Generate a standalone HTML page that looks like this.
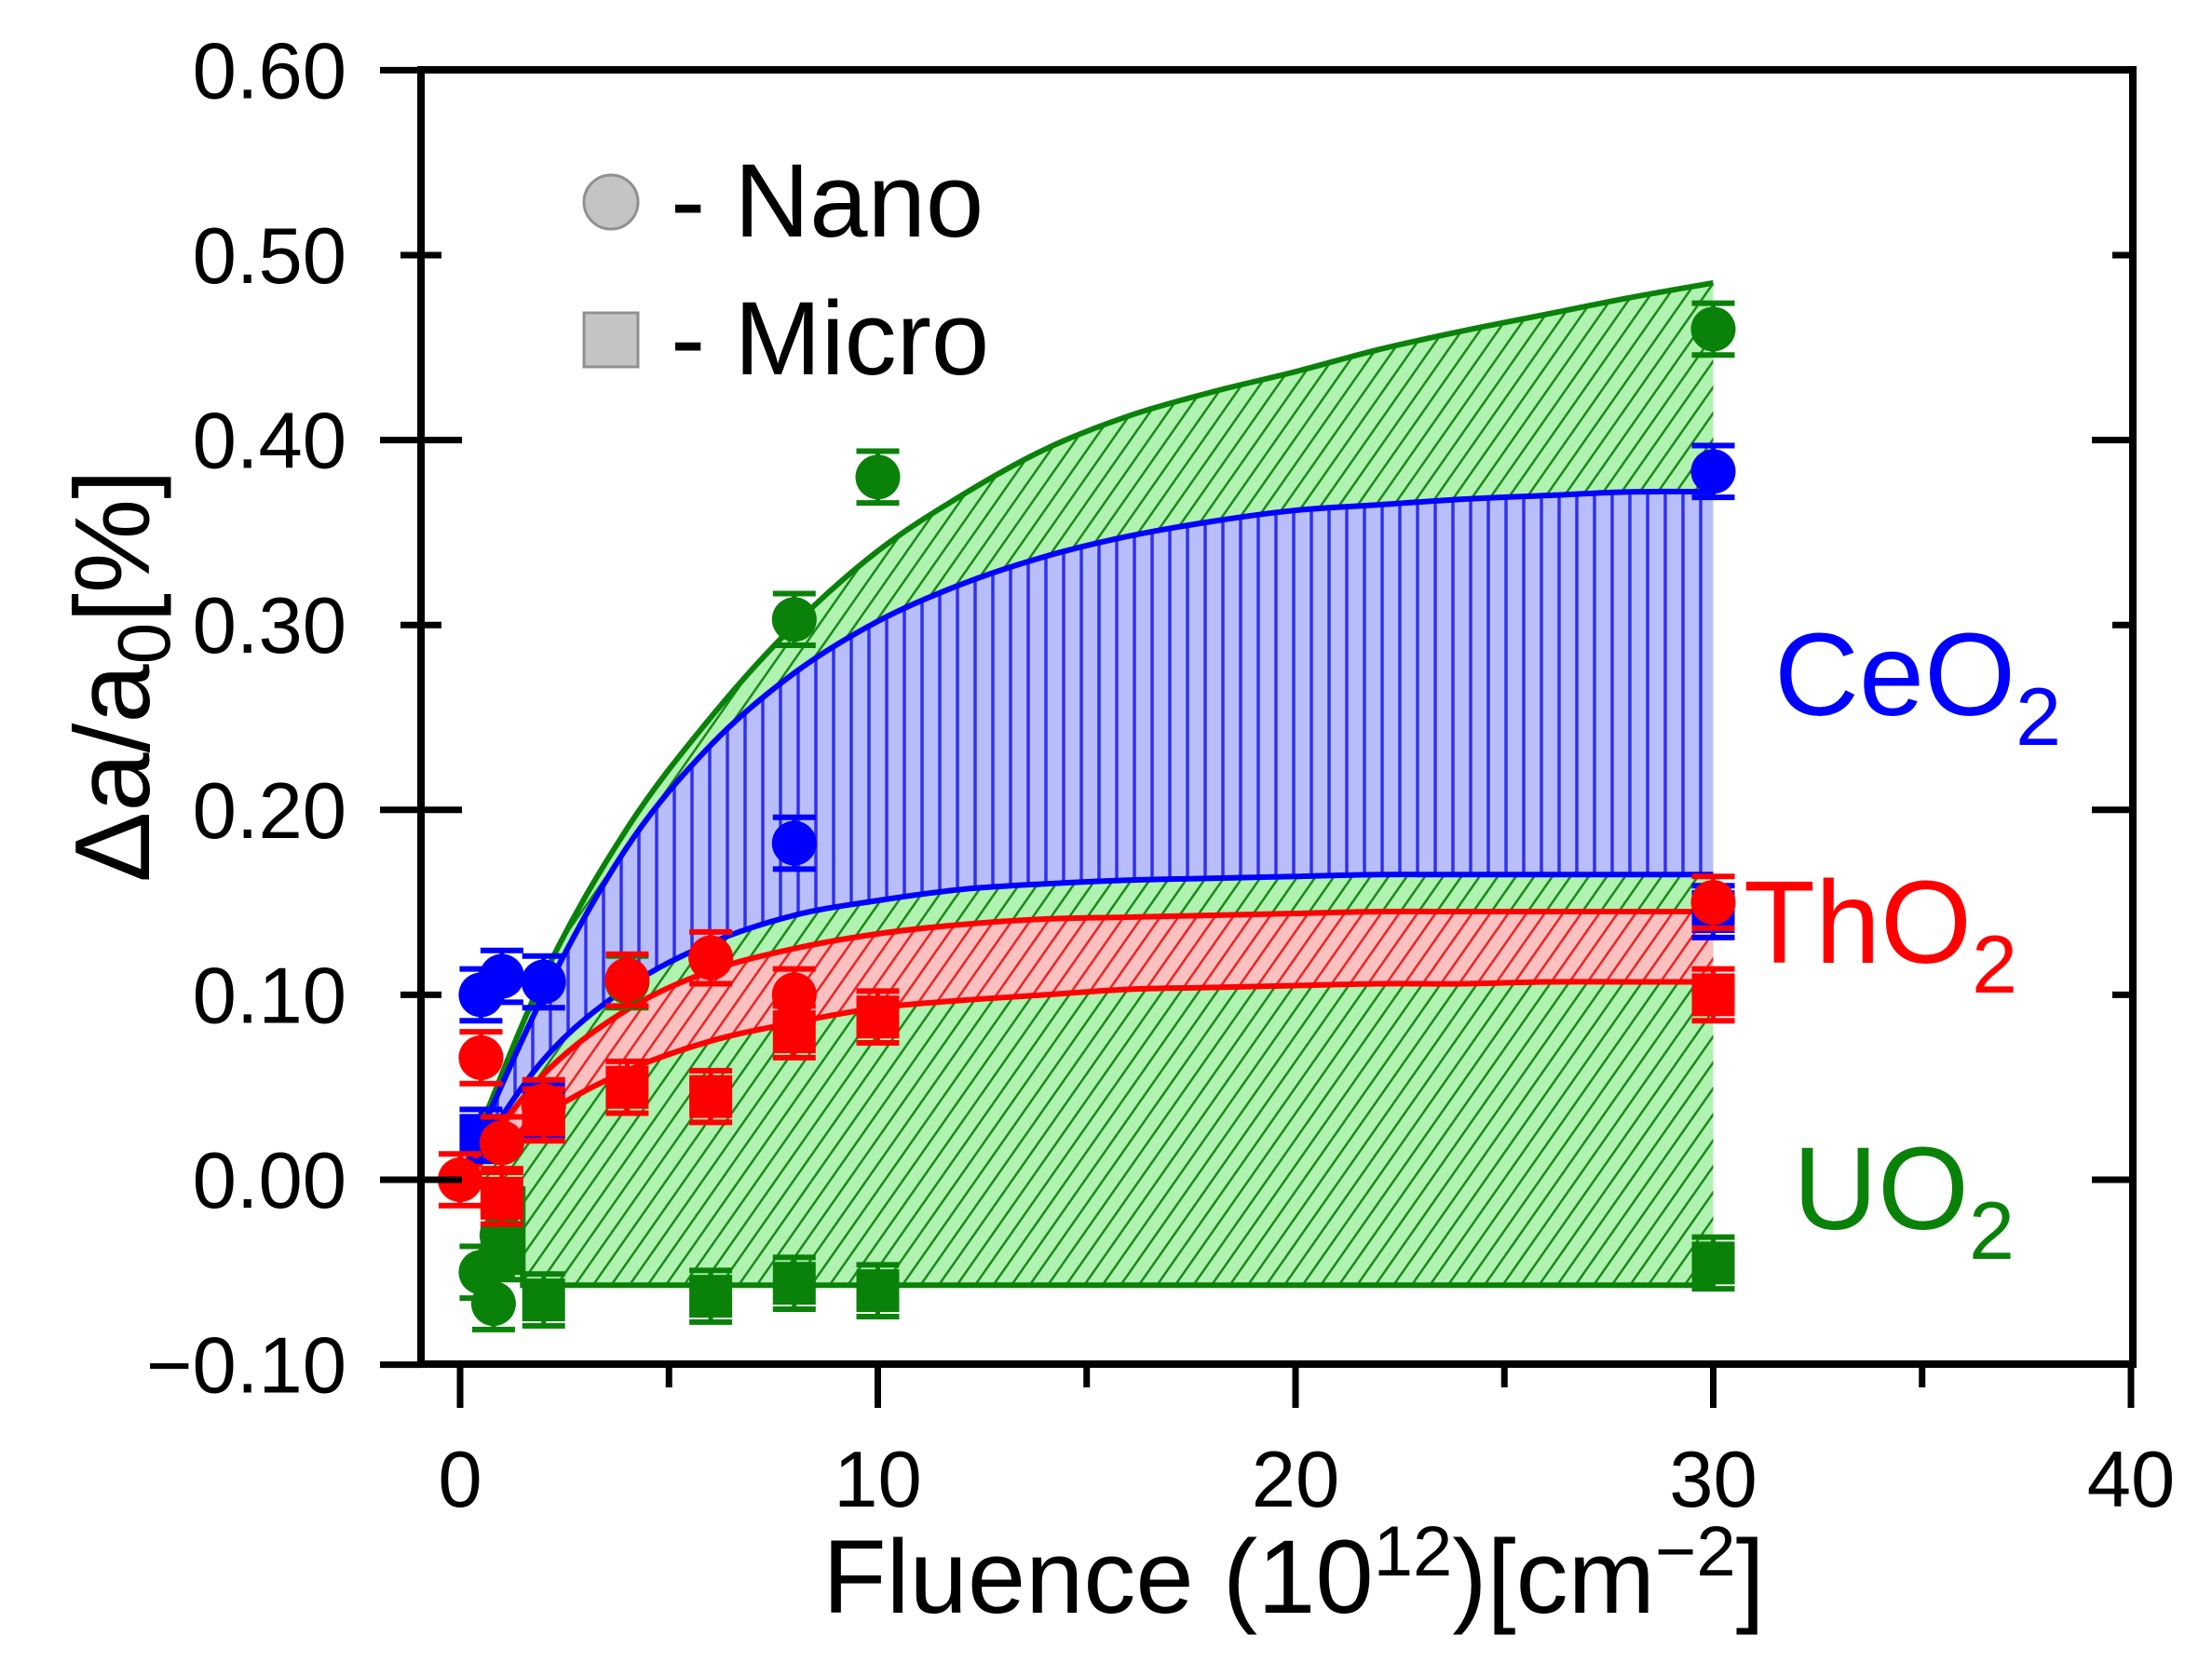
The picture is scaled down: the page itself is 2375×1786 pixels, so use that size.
<!DOCTYPE html>
<html><head><meta charset="utf-8"><style>
html,body{margin:0;padding:0;background:#fff;}
svg{display:block;font-family:"Liberation Sans",Arial,sans-serif;}
</style></head><body>
<svg id="chart" width="2375" height="1786" viewBox="0 0 2375 1786" xmlns="http://www.w3.org/2000/svg">
<defs>
<pattern id="hatchGreen" patternUnits="userSpaceOnUse" width="16" height="16" patternTransform="rotate(35)">
<rect width="16" height="16" fill="#b0f2b0"/><line x1="0" y1="0" x2="0" y2="16" stroke="#1a8a1a" stroke-width="5"/></pattern>
<pattern id="hatchRed" patternUnits="userSpaceOnUse" width="16" height="16" patternTransform="rotate(35)">
<rect width="16" height="16" fill="#fbc0c0"/><line x1="0" y1="0" x2="0" y2="16" stroke="#ee2424" stroke-width="5"/></pattern>
<pattern id="hatchBlue" patternUnits="userSpaceOnUse" width="19" height="19">
<rect width="19" height="19" fill="#b8befa"/><line x1="2" y1="0" x2="2" y2="19" stroke="#3030f0" stroke-width="3.5"/></pattern>
</defs>
<g id="fills"></g>
<g id="lines"></g>
<g id="points"></g>
<g id="axes"></g>
<g id="labels"></g>
</svg>
<script>
// ---- data ----
const curveX = [0,2,4,6,8,10,12,14,16,18,20,22,24,26,28,30];
const uo2Upper = [0,0.11,0.19,0.25,0.30,0.34,0.37,0.395,0.413,0.426,0.437,0.449,0.459,0.468,0.477,0.485];
const ceo2Upper = [0,0.100,0.180,0.235,0.274,0.302,0.322,0.337,0.348,0.356,0.362,0.365,0.368,0.370,0.372,0.372];
const ceo2Lower = [0,0.065,0.104,0.128,0.143,0.151,0.157,0.160,0.162,0.163,0.164,0.165,0.165,0.165,0.165,0.165];
const tho2Upper = [0,0.057,0.092,0.113,0.125,0.133,0.138,0.141,0.142,0.143,0.144,0.145,0.145,0.145,0.145,0.145];
const tho2Lower = [0,0.035,0.059,0.075,0.085,0.093,0.097,0.100,0.103,0.104,0.105,0.106,0.106,0.107,0.107,0.107];
const uo2LowerX = [0,1.5,1.5,30];
const uo2LowerY = [0,-0.005,-0.057,-0.057];

const uo2NanoX = [0.5,0.8,1,4,8,10,30];
const uo2NanoY = [-0.05,-0.067,-0.03,0.107,0.303,0.38,0.46];
const uo2MicroX = [1,2,6,8,10,30];
const uo2MicroY = [-0.04,-0.065,-0.063,-0.056,-0.06,-0.045];
const ceo2NanoX = [0.5,1,2,8,30];
const ceo2NanoY = [0.1,0.11,0.107,0.182,0.383];
const ceo2MicroX = [0.5,2,30];
const ceo2MicroY = [0.024,0.038,0.145];
const tho2NanoX = [0,0.5,1,2,4,6,8,30];
const tho2NanoY = [0,0.066,0.02,0.04,0.108,0.12,0.1,0.15];
const tho2MicroX = [1,2,4,6,8,10,30];
const tho2MicroY = [-0.01,0.035,0.05,0.045,0.08,0.088,0.1];

const yTicks = [-0.1,0,0.1,0.2,0.3,0.4,0.5,0.6];
const yTickLabels = ["\u22120.10","0.00","0.10","0.20","0.30","0.40","0.50","0.60"];
const xTicks = [0,10,20,30,40];
const xTickLabels = ["0","10","20","30","40"];
const xMinor = [5,15,25,35];

// ---- scales ----
const X0=494, XU=44.85, Y0=1267, YU=1986;
const sx = v => X0 + v*XU;
const sy = v => Y0 - v*YU;
const NS="http://www.w3.org/2000/svg";
function mk(tag, attrs, parent){const e=document.createElementNS(NS,tag);for(const k in attrs)e.setAttribute(k,attrs[k]);parent.appendChild(e);return e;}
const fills=document.getElementById('fills'), lines=document.getElementById('lines'), pts=document.getElementById('points'), axes=document.getElementById('axes'), labels=document.getElementById('labels');

function pathXY(xs,ys){return xs.map((x,i)=>(i?'L':'M')+sx(x).toFixed(1)+','+sy(ys[i]).toFixed(1)).join(' ');}
function smooth(xs,ys){
  let d='M'+sx(xs[0])+','+sy(ys[0]);
  for(let i=0;i<xs.length-1;i++){
    const p0=[sx(xs[Math.max(i-1,0)]),sy(ys[Math.max(i-1,0)])],p1=[sx(xs[i]),sy(ys[i])],p2=[sx(xs[i+1]),sy(ys[i+1])],p3=[sx(xs[Math.min(i+2,xs.length-1)]),sy(ys[Math.min(i+2,xs.length-1)])];
    const c1=[p1[0]+(p2[0]-p0[0])/6,p1[1]+(p2[1]-p0[1])/6],c2=[p2[0]-(p3[0]-p1[0])/6,p2[1]-(p3[1]-p1[1])/6];
    d+=' C'+c1.join(',')+' '+c2.join(',')+' '+p2.join(',');
  }
  return d;
}
function bandPath(upper, lower){
  const rx=curveX.slice().reverse(), ry=lower.slice().reverse();
  return smooth(curveX,upper)+smooth(rx,ry).replace(/^M/,' L')+' Z';
}
let e;
e=mk('path',{d:smooth(curveX,uo2Upper)+' '+pathXY(uo2LowerX.slice().reverse(),uo2LowerY.slice().reverse()).replace(/^M/,'L')+' Z',fill:'url(#hatchGreen)'},fills);


e=mk('path',{d:bandPath(ceo2Upper,ceo2Lower),fill:'url(#hatchBlue)'},fills);


e=mk('path',{d:bandPath(tho2Upper,tho2Lower),fill:'url(#hatchRed)'},fills);



const lineDefs=[[uo2Upper,'#0a820a','uo2-nano-fit'],[ceo2Upper,'#0000ff','ceo2-nano-fit'],[ceo2Lower,'#0000ff','ceo2-micro-fit'],[tho2Upper,'#ff0000','tho2-nano-fit'],[tho2Lower,'#ff0000','tho2-micro-fit']];
lineDefs.forEach(l=>{
  const p=mk('path',{d:smooth(curveX,l[0]),fill:'none',stroke:l[1],'stroke-width':6},lines);
  
  
});
e=mk('path',{d:pathXY(uo2LowerX,uo2LowerY),fill:'none',stroke:'#0a820a','stroke-width':6},lines);



function errBar(x,y,col,g){
  const cx=sx(x), t=sy(y+0.014), b=sy(y-0.014);
  mk('line',{x1:cx,y1:t,x2:cx,y2:b,stroke:col,'stroke-width':5},g);
  mk('line',{x1:cx-23,y1:t,x2:cx+23,y2:t,stroke:col,'stroke-width':6},g);
  mk('line',{x1:cx-23,y1:b,x2:cx+23,y2:b,stroke:col,'stroke-width':6},g);
}
function drawSeries(xs,ys,col,shape,name){
  xs.forEach((x,i)=>{
    const g=mk('g',{},pts);
    
    
    errBar(x,ys[i],col,g);
    if(shape==='c') mk('circle',{cx:sx(x),cy:sy(ys[i]),r:24,fill:col},g);
    else mk('rect',{x:sx(x)-23,y:sy(ys[i])-23,width:46,height:46,fill:col},g);
  });
}
drawSeries(uo2MicroX,uo2MicroY,'#0a820a','s','uo2-micro');
drawSeries(uo2NanoX,uo2NanoY,'#0a820a','c','uo2-nano');
drawSeries(ceo2MicroX,ceo2MicroY,'#0000ff','s','ceo2-micro');
drawSeries(ceo2NanoX,ceo2NanoY,'#0000ff','c','ceo2-nano');
drawSeries(tho2MicroX,tho2MicroY,'#ff0000','s','tho2-micro');
drawSeries(tho2NanoX,tho2NanoY,'#ff0000','c','tho2-nano');

const L=452,R=2290,T=75,B=1465;
e=mk('rect',{x:L,y:T,width:R-L,height:B-T,fill:'none',stroke:'#000','stroke-width':8},axes);


yTicks.forEach((v,i)=>{
  const y=sy(v);
  const major=Math.round(v*10)%2===0;
  const len=major?44:22;
  if(v>-0.1 && v<0.6){
    mk('line',{x1:L-len,y1:y,x2:L+len,y2:y,stroke:'#000','stroke-width':7},axes);
    mk('line',{x1:R-len,y1:y,x2:R,y2:y,stroke:'#000','stroke-width':7},axes);
  } else {
    mk('line',{x1:L-44,y1:y,x2:L,y2:y,stroke:'#000','stroke-width':7},axes);
  }
  const t=mk('text',{x:372,y:y+30,'text-anchor':'end','font-size':85,fill:'#000'},labels);
  t.textContent=yTickLabels[i];
  
  
});
xTicks.forEach((v,i)=>{
  const x=sx(v);
  mk('line',{x1:x,y1:B,x2:x,y2:B+47,stroke:'#000','stroke-width':7},axes);
  const t=mk('text',{x:x,y:1618,'text-anchor':'middle','font-size':85,fill:'#000'},labels);
  t.textContent=xTickLabels[i];
  
  
});
xMinor.forEach(v=>{mk('line',{x1:sx(v),y1:B,x2:sx(v),y2:B+25,stroke:'#000','stroke-width':7},axes);});
</script>
<svg style="position:absolute;left:0;top:0" width="2375" height="1786" xmlns="http://www.w3.org/2000/svg" font-family="Liberation Sans, Arial, sans-serif">
<g>
<circle cx="656" cy="217" r="29" fill="#c4c4c4" stroke="#909090" stroke-width="3"/>
<text x="720" y="254" font-size="112">- Nano</text>
<rect x="627" y="336" width="58" height="58" fill="#c4c4c4" stroke="#909090" stroke-width="3"/>
<text x="720" y="402" font-size="112">- Micro</text>
</g>
<text x="1905" y="768" font-size="126" fill="#0000ff">CeO<tspan font-size="88" dy="32">2</tspan></text>
<text x="1872" y="1034" font-size="126" fill="#ff0000">ThO<tspan font-size="88" dy="32">2</tspan></text>
<text x="1925" y="1320" font-size="126" fill="#0a820a">UO<tspan font-size="88" dy="32">2</tspan></text>
<text transform="translate(160,726) rotate(-90)" text-anchor="middle" font-size="114">Δa/a<tspan font-size="80" dy="22">0</tspan><tspan dy="-22">[%]</tspan></text>
<text x="1389" y="1732" text-anchor="middle" font-size="112">Fluence (10<tspan font-size="76" dy="-40">12</tspan><tspan dy="40">)[cm</tspan><tspan font-size="76" dy="-40">−2</tspan><tspan dy="40">]</tspan></text>
</svg>
</body></html>
